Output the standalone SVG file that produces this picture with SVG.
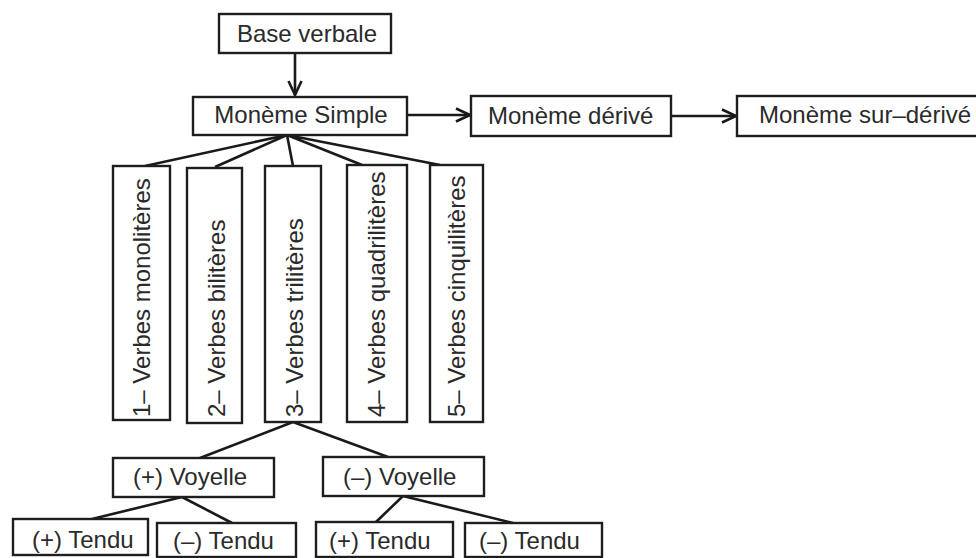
<svg xmlns="http://www.w3.org/2000/svg" width="976" height="558" viewBox="0 0 976 558">
  <style>
    .box { fill: #ffffff; stroke: #1e1e1e; stroke-width: 2.4; }
    .lbl { font-family: "Liberation Sans", Arial, sans-serif; font-size: 24px; fill: #2a2a2a; }
    .edge { fill: none; stroke: #1a1a1a; stroke-width: 2.6; }
  </style>
  <defs>
    <marker id="arrow" viewBox="0 0 16 16" refX="15" refY="8" markerWidth="16" markerHeight="16" markerUnits="userSpaceOnUse" orient="auto">
      <path d="M1,1.5 L15,8 L1,14.5" fill="none" stroke="#1a1a1a" stroke-width="2.6"/>
    </marker>
  </defs>
  <rect width="976" height="558" fill="#ffffff"/>

  <g id="connectors">
    <line class="edge" x1="295" y1="53" x2="295" y2="95" marker-end="url(#arrow)"/>
    <line class="edge" x1="407" y1="115" x2="470" y2="115" marker-end="url(#arrow)"/>
    <line class="edge" x1="671" y1="116" x2="736" y2="116" marker-end="url(#arrow)"/>
    <path class="edge" d="M287,135 L145,166 M287,135 L215,167 M287,135 L293,166 M287,135 L362,165 M287,135 L440,165"/>
    <path class="edge" d="M293,422 L200,458 M293,422 L388,457"/>
    <path class="edge" d="M182,497 L92,519 M182,497 L232,523"/>
    <path class="edge" d="M403,496 L376,522 M403,496 L513,523"/>
  </g>

  <g id="base-verbale">
    <rect class="box" x="219" y="14" width="172" height="39"/>
    <text class="lbl" x="307" y="42" text-anchor="middle">Base verbale</text>
  </g>
  <g id="moneme-simple">
    <rect class="box" x="193" y="97" width="214" height="38"/>
    <text class="lbl" x="301" y="123" text-anchor="middle">Monème Simple</text>
  </g>
  <g id="moneme-derive">
    <rect class="box" x="471" y="96" width="200" height="40"/>
    <text class="lbl" x="488" y="124">Monème dérivé</text>
  </g>
  <g id="moneme-sur-derive">
    <rect class="box" x="737" y="96" width="262" height="40"/>
    <text class="lbl" x="759" y="123">Monème sur–dérivé</text>
  </g>

  <g id="verbes-monoliteres">
    <rect class="box" x="113" y="166" width="57" height="254"/>
    <text class="lbl" transform="translate(150,417) rotate(-90)">1– Verbes monolitères</text>
  </g>
  <g id="verbes-biliteres">
    <rect class="box" x="187" y="168" width="55" height="255"/>
    <text class="lbl" transform="translate(225,417) rotate(-90)">2– Verbes bilitères</text>
  </g>
  <g id="verbes-triliteres">
    <rect class="box" x="265" y="166" width="56" height="256"/>
    <text class="lbl" transform="translate(303,417) rotate(-90)">3– Verbes trilitères</text>
  </g>
  <g id="verbes-quadriliteres">
    <rect class="box" x="347" y="165" width="60" height="257"/>
    <text class="lbl" transform="translate(385,417) rotate(-90)">4– Verbes quadrilitères</text>
  </g>
  <g id="verbes-cinquiliteres">
    <rect class="box" x="430" y="165" width="53" height="257"/>
    <text class="lbl" transform="translate(465,417) rotate(-90)">5– Verbes cinquilitères</text>
  </g>

  <g id="plus-voyelle">
    <rect class="box" x="113" y="458" width="161" height="39"/>
    <text class="lbl" x="133" y="485">(+) Voyelle</text>
  </g>
  <g id="minus-voyelle">
    <rect class="box" x="323" y="457" width="161" height="39"/>
    <text class="lbl" x="343" y="485">(–) Voyelle</text>
  </g>

  <g id="plus-voyelle-plus-tendu">
    <rect class="box" x="13" y="519" width="135" height="36"/>
    <text class="lbl" x="32" y="548">(+) Tendu</text>
  </g>
  <g id="plus-voyelle-minus-tendu">
    <rect class="box" x="157" y="523" width="139" height="34"/>
    <text class="lbl" x="173" y="549">(–) Tendu</text>
  </g>
  <g id="minus-voyelle-plus-tendu">
    <rect class="box" x="316" y="522" width="137" height="35"/>
    <text class="lbl" x="329" y="549">(+) Tendu</text>
  </g>
  <g id="minus-voyelle-minus-tendu">
    <rect class="box" x="465" y="523" width="137" height="34"/>
    <text class="lbl" x="479" y="549">(–) Tendu</text>
  </g>
</svg>
